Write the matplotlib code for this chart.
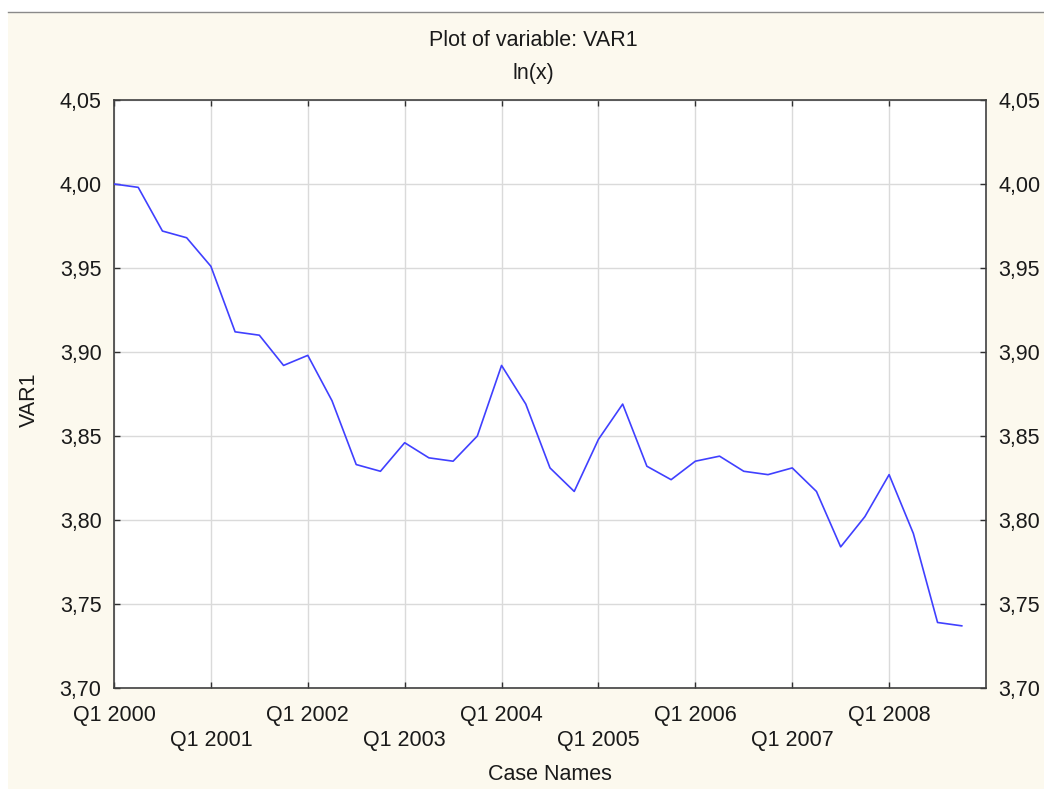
import numpy as np
import matplotlib
matplotlib.use("Agg")
import matplotlib.pyplot as plt
from matplotlib.patches import Rectangle
from matplotlib.lines import Line2D
from matplotlib.ticker import FuncFormatter

# ---- data ----
years = list(range(2000, 2009))
quarters = [f"Q{q} {y}" for y in years for q in range(1, 5)]
values = [4.000, 3.998, 3.972, 3.968, 3.951, 3.912, 3.910, 3.892,
          3.898, 3.871, 3.833, 3.829, 3.846, 3.837, 3.835, 3.850,
          3.892, 3.869, 3.831, 3.817, 3.848, 3.869, 3.832, 3.824,
          3.835, 3.838, 3.829, 3.827, 3.831, 3.817, 3.784, 3.802,
          3.827, 3.792, 3.739, 3.737]
yticks = [3.70, 3.75, 3.80, 3.85, 3.90, 3.95, 4.00, 4.05]
title_text = "Plot of variable: VAR1"
subtitle_text = "ln(x)"
xlabel_text = "Case Names"
ylabel_text = "VAR1"

plt.rcParams['font.family'] = ['Liberation Sans', 'DejaVu Sans']
FS = 15.5

W, H = 1044, 789
fig = plt.figure(figsize=(W / 100, H / 100), dpi=100, facecolor='white')

# cream background panel
fig.patches.append(Rectangle((8 / W, 0), 1 - 8 / W, (H - 12) / H,
                             transform=fig.transFigure, facecolor='#FCF9EE',
                             edgecolor='none', zorder=-10))
fig.lines.append(Line2D([8 / W, 1], [(H - 11.5) / H] * 2, transform=fig.transFigure,
                        color='#8a8a8a', lw=1.0, zorder=-5))

ax = fig.add_axes([114 / W, (H - 688) / H, 872 / W, 588 / H])
ax.set_zorder(1)
ax.set_facecolor('white')

x = np.arange(len(values))
ax.plot(x, values, color='#4040FF', lw=1.2, zorder=3)

ax.set_xlim(0, len(values))
ax.set_ylim(yticks[0], yticks[-1])

# x ticks: Q1 of each year, staggered labels
q1_pos = [i for i, q in enumerate(quarters) if q.startswith("Q1")]
even_pos = q1_pos[0::2]
odd_pos = q1_pos[1::2]
ax.set_xticks(even_pos)
ax.set_xticklabels([quarters[i] for i in even_pos], fontsize=FS)
ax.set_xticks(odd_pos, minor=True)
ax.set_xticklabels([quarters[i] for i in odd_pos], minor=True, fontsize=FS)

ax.set_yticks(yticks)
ax.yaxis.set_major_formatter(FuncFormatter(lambda v, p: f"{v:.2f}".replace('.', ',')))

ax.tick_params(axis='both', which='both', direction='in', length=4, width=1.0,
               color='#303030', labelcolor='#1a1a1a', top=True, right=True)
ax.tick_params(axis='y', labelsize=FS, labelright=True, pad=9)
ax.tick_params(axis='x', which='major', pad=12)
ax.tick_params(axis='x', which='minor', pad=12 + 18)

ax.grid(True, which='both', axis='x', color='#DADADA', lw=1.0)
ax.grid(True, which='major', axis='y', color='#DADADA', lw=1.0)
ax.set_axisbelow(True)

for s in ax.spines.values():
    s.set_color('#404040')
    s.set_linewidth(1.2)

# titles and labels
fig.text(533 / W, 1 - 41 / H, title_text, ha='center', va='center', fontsize=FS, color='#1a1a1a')
fig.text(533 / W, 1 - 74 / H, subtitle_text, ha='center', va='center', fontsize=FS, color='#1a1a1a')
fig.text(550 / W, 1 - 775 / H, xlabel_text, ha='center', va='center', fontsize=FS, color='#1a1a1a')
fig.text(29 / W, 1 - 400 / H, ylabel_text, ha='center', va='center', rotation=90,
         fontsize=FS, color='#1a1a1a')

fig.savefig("out.png", dpi=100, facecolor=fig.get_facecolor())
